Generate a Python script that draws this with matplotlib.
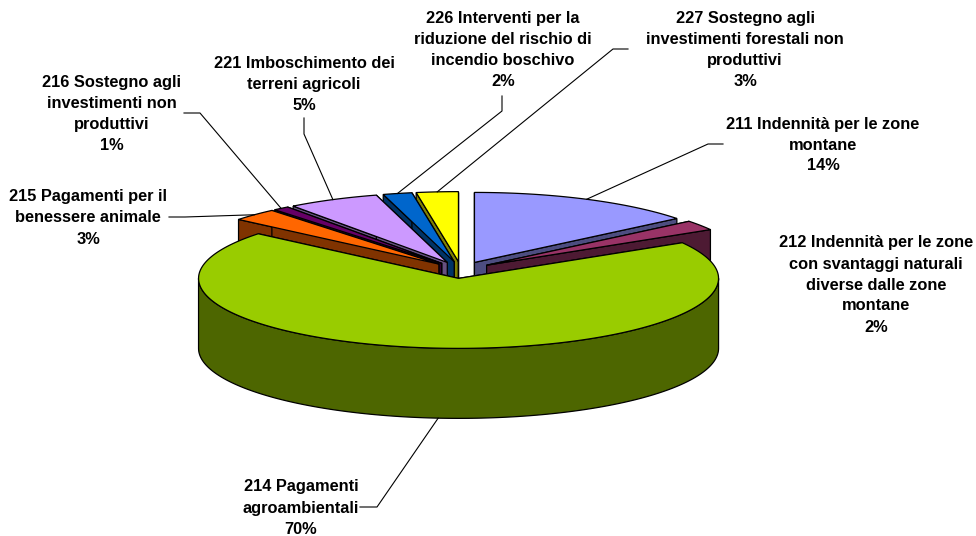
import numpy as np
import matplotlib
matplotlib.use("Agg")
import matplotlib.pyplot as plt
from matplotlib.patches import Polygon

plt.rcParams["font.family"] = ["Liberation Sans", "DejaVu Sans"]

# shares, clockwise from 12 o'clock
shares = [14.2, 2.3, 69.5, 2.9, 1.0, 5.7, 1.8, 2.6]
top_colors = ["#9999FF", "#993366", "#99CC00", "#FF6600", "#660066", "#CC99FF", "#0066CC", "#FFFF00"]
side_colors = ["#4D4D80", "#4D1A33", "#4D6600", "#803300", "#330033", "#665080", "#003366", "#808000"]
labels = [
    "211 Indennità per le zone\nmontane\n14%",
    "212 Indennità per le zone\ncon svantaggi naturali\ndiverse dalle zone\nmontane\n2%",
    "214 Pagamenti\nagroambientali\n70%",
    "215 Pagamenti per il\nbenessere animale\n3%",
    "216 Sostegno agli\ninvestimenti non\nproduttivi\n1%",
    "221 Imboschimento dei\nterreni agricoli\n5%",
    "226 Interventi per la\nriduzione del rischio di\nincendio boschivo\n2%",
    "227 Sostegno agli\ninvestimenti forestali non\nproduttivi\n3%",
]
label_pos = [(823, 145), (876, 285), (301, 508), (88, 218), (112, 114), (304, 84), (503, 50), (745, 50)]
leader_paths = [
    [(723, 144), (708, 144)],
    [],
    [(360, 507), (377, 507)],
    [(169, 217), (185, 217)],
    [(184, 113), (200, 113)],
    [(304, 118), (304, 134)],
    [(502, 96), (502, 111)],
    [(628, 49), (613, 49)],
]
# order the wedges get painted in, back to front
paint_order = [0, 7, 6, 5, 4, 3, 1, 2]

CX, CY = 461, 270
RX, RY = 260, 70
DEPTH = 70
EXPLODE = 0.12


def rim(theta, ox, oy):
    t = np.radians(theta)
    return np.column_stack([ox + RX * np.sin(t), oy - RY * np.cos(t)])


fig = plt.figure(figsize=(9.76, 5.36), dpi=100)
ax = fig.add_axes([0, 0, 1, 1])
ax.set_xlim(0, 976)
ax.set_ylim(536, 0)
ax.axis("off")

edges = np.cumsum([0] + shares) / sum(shares) * 360
offsets = []
for i in range(len(shares)):
    mid = np.radians((edges[i] + edges[i + 1]) / 2)
    offsets.append((CX + EXPLODE * RX * np.sin(mid), CY - EXPLODE * RY * np.cos(mid)))

for z, i in enumerate(paint_order):
    t1, t2 = edges[i], edges[i + 1]
    ox, oy = offsets[i]
    down = np.array([0, DEPTH])
    apex = np.array([ox, oy])
    # radial side faces
    for t in (t1, t2):
        p = rim(np.array([t]), ox, oy)[0]
        ax.add_patch(Polygon([apex, p, p + down, apex + down], fc=side_colors[i], ec="black", lw=0.9, zorder=z * 3 + 1))
    # outer wall, only the part that faces the viewer
    a, b = max(t1, 90), min(t2, 270)
    if a < b:
        arc = rim(np.linspace(a, b, 200), ox, oy)
        wall = np.vstack([arc, arc[::-1] + down])
        ax.add_patch(Polygon(wall, fc=side_colors[i], ec="black", lw=0.9, zorder=z * 3 + 2))
    arc = rim(np.linspace(t1, t2, 200), ox, oy)
    ax.add_patch(Polygon(np.vstack([apex, arc]), fc=top_colors[i], ec="black", lw=0.9, zorder=z * 3 + 3))

# leader lines run from the label to the middle of the wedge's rim
for i, path in enumerate(leader_paths):
    if not path:
        continue
    mid = (edges[i] + edges[i + 1]) / 2
    end = rim(np.array([mid]), *offsets[i])[0]
    if i == 2:
        end = end + np.array([0, DEPTH])
    pts = np.array(path + [tuple(end)])
    ax.plot(pts[:, 0], pts[:, 1], color="black", lw=0.8, zorder=40)

for text, (x, y) in zip(labels, label_pos):
    ax.text(x, y, text, ha="center", va="center", fontsize=11.8, fontweight="bold",
            linespacing=1.5, color="black", zorder=50)

fig.savefig("out.png", dpi=100)
